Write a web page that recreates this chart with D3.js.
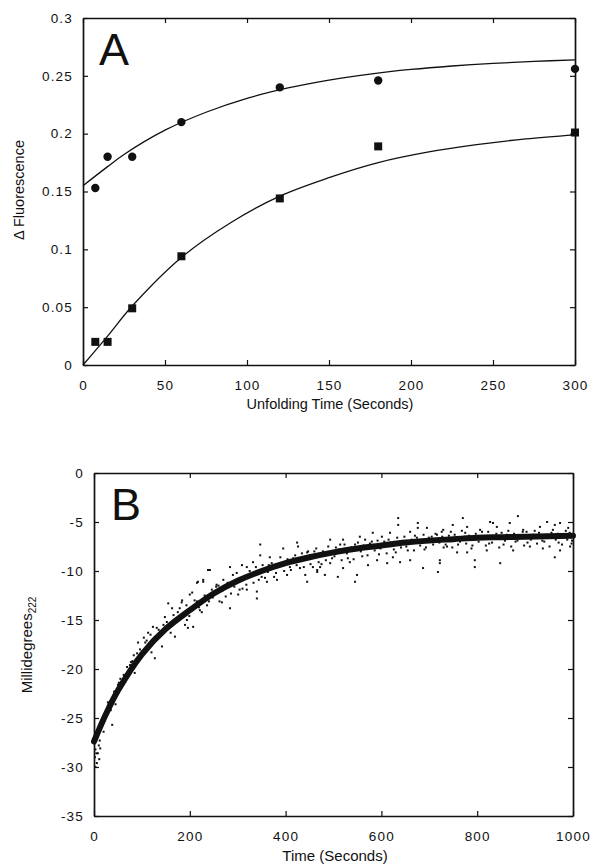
<!DOCTYPE html>
<html>
<head>
<meta charset="utf-8">
<script src="https://cdn.jsdelivr.net/npm/d3@7"></script>
<style>
  body { margin: 0; background: #fff; }
  svg { display: block; font-family: "Liberation Sans", Arial, Helvetica, sans-serif; }
  .tick text { font-size: 13.5px; letter-spacing: 1.2px; fill: #111; }
  .domain { stroke: #111; stroke-width: 1.7; }
  .tick line { stroke: #111; stroke-width: 1.2; }
</style>
</head>
<body>
<div id="chart"></div>
<script>
// ---- Panel A data ----
const unfoldTimes = [7.5, 15, 30, 60, 120, 180, 300];
const circleVals = [0.153, 0.180, 0.180, 0.210, 0.240, 0.246, 0.256];
const squareVals = [0.020, 0.020, 0.049, 0.094, 0.144, 0.189, 0.201];

// fitted curves
const fitCircleT = [0, 15, 25, 50, 75, 100, 125, 150, 175, 200, 225, 250, 275, 300];
const fitCircleY = [0.155, 0.1715, 0.182, 0.203, 0.2185, 0.2305, 0.2395, 0.2463, 0.2515, 0.2555, 0.2585, 0.2608, 0.2625, 0.2638];
const fitSquareT = [0, 15, 30, 60, 90, 120, 150, 180, 210, 240, 270, 300];
const fitSquareY = [0.0, 0.025, 0.051, 0.093, 0.123, 0.146, 0.162, 0.175, 0.184, 0.1905, 0.1955, 0.199];

const aXTicks = [0, 50, 100, 150, 200, 250, 300];
const aYTicks = [0, 0.05, 0.1, 0.15, 0.2, 0.25, 0.3];

// ---- Panel B data ----
const fitBT = [0, 25, 50, 100, 150, 200, 250, 300, 350, 400, 450, 500, 550, 600, 650, 700, 750, 800, 850, 900, 950, 1000];
const fitBY = [-27.4, -24.6, -22.2, -18.5, -15.9, -14.0, -12.3, -11.0, -10.0, -9.2, -8.6, -8.1, -7.7, -7.4, -7.1, -6.9, -6.75, -6.6, -6.55, -6.5, -6.45, -6.4];

// scattered CD readings around the fit
const bandDots = [
  [5,-28.6],[10,-27.8],[15,-25.9],[20,-26.4],[35,-24.2],[45,-23.6],[55,-21.0],[65,-21.3],[80,-19.2],[85,-20.4],
  [110,-17.1],[120,-18.3],[135,-16.0],[160,-16.3],[175,-14.2],[215,-13.1],[225,-14.2],[260,-11.5],[275,-12.6],[290,-10.4],
  [310,-11.8],[325,-10.0],[350,-10.6],[365,-9.4],[380,-10.2],[420,-8.4],[430,-9.7],[460,-8.0],[475,-9.3],[505,-7.6],
  [530,-8.7],[545,-7.3],[560,-8.5],[580,-7.0],[595,-8.3],[615,-6.8],[630,-8.1],[645,-7.0],[655,-7.9],[670,-6.4],
  [690,-7.8],[705,-6.5],[730,-7.6],[745,-6.0],[760,-7.3],[775,-6.1],[790,-7.4],[810,-6.0],[825,-7.2],[840,-6.2],
  [855,-7.3],[865,-5.9],[880,-7.0],[895,-6.0],[905,-7.1],[920,-5.9],[940,-7.0],[955,-6.1],[970,-7.1],[985,-5.9],[998,-6.9]
];
const earlyDots = [
  [2,-29.0],[8,-28.6],[13,-28.1],[6,-29.6],[3,-30.0],[11,-29.2],[38,-25.7],[29,-23.4],[42,-22.3],[50,-21.6],
  [69,-19.8],[75,-19.6],[90,-18.4],[92,-17.3],[104,-16.8],[113,-16.3],[123,-15.7],[127,-18.9],[142,-17.7],[148,-14.7],
  [155,-13.3],[163,-13.8],[169,-16.7],[184,-13.0],[190,-15.5],[196,-15.8],[205,-12.2],[217,-11.1],[228,-10.9],[238,-9.9],[221,-14.0],
  [3,-28.2],[4,-27.0],[9,-26.5],[12,-27.3],[17,-25.3],[22,-24.9],[27,-24.3],[31,-23.5],[40,-23.0],[47,-22.5],
  [52,-21.4],[58,-21.8],[62,-20.6],[71,-20.3],[77,-19.3],[83,-18.6],[88,-19.4],[96,-18.0],[101,-18.2],[107,-17.3],
  [115,-17.4],[118,-16.5],[126,-16.8],[131,-15.8],[138,-16.5],[145,-15.5],[152,-15.2],[158,-15.6],[166,-14.5],[172,-15.1],
  [179,-13.8],[186,-14.3],[193,-13.5],[199,-14.6],[210,-13.0],[219,-13.7],[231,-12.5],[240,-13.1],[246,-11.9]
];
const midDots = [
  [347,-7.3],[424,-7.1],[426,-7.5],[395,-7.7],[242,-9.9],[284,-9.6],[309,-9.4],[215,-11.2],[228,-11.1],[347,-8.4],
  [367,-8.6],[445,-8.1],[183,-13.2],[200,-12.4],[256,-11.4],[270,-10.9],[319,-9.6],[332,-9.1],
  [284,-13.8],[340,-12.8],[340,-12.1],[319,-11.9],[301,-12.4],[361,-11.1],[382,-10.9],[403,-10.4],[445,-11.1],[441,-10.4],
  [267,-13.2],[236,-13.5],[207,-15.7],[194,-15.0],[248,-12.7],[409,-9.6],[466,-9.9],[457,-9.6],
  [255,-11.6],[262,-13.1],[268,-12.0],[279,-11.2],[286,-12.3],[293,-11.6],[298,-10.2],[304,-11.9],[312,-10.7],[318,-11.4],
  [327,-10.3],[333,-11.2],[338,-9.6],[344,-10.9],[352,-9.4],[357,-10.7],[363,-10.1],[371,-9.2],[376,-10.6],[384,-9.5],
  [389,-8.6],[397,-10.0],[404,-8.8],[411,-9.9],[416,-8.7],[423,-9.4],[434,-8.2],[438,-9.6],[447,-8.0],[452,-9.3],
  [458,-8.5],[464,-7.7],[469,-9.1],[478,-8.0],[484,-8.9],[489,-7.5],[497,-8.7],[502,-8.5],[511,-7.8],[517,-8.9],
  [523,-7.3],[528,-8.2],[537,-7.6],[542,-8.8],[551,-7.1],[557,-8.0],[563,-7.4],[571,-8.4],[576,-7.2],[586,-7.9],
  [592,-6.9],[598,-7.7]
];
const lateDots = [
  [635,-4.6],[635,-5.3],[676,-5.1],[676,-5.6],[726,-6.0],[716,-6.3],[618,-6.1],[601,-6.5],[582,-6.1],[555,-6.5],
  [566,-6.8],[520,-6.8],[493,-6.8],[514,-7.3],[660,-6.0],[695,-5.6],
  [545,-11.1],[549,-10.4],[482,-10.4],[466,-10.1],[509,-10.6],[520,-9.7],[572,-9.4],[612,-9.2],[591,-8.9],[639,-9.1],
  [660,-8.9],[687,-9.7],[718,-10.1],[722,-8.9],[624,-8.6],[534,-9.1],[493,-9.2],[472,-9.6],
  [885,-4.4],[833,-5.1],[827,-5.0],[770,-4.6],[749,-5.3],[779,-5.5],[868,-5.1],[946,-5.0],[962,-5.3],[973,-5.1],
  [990,-5.6],[931,-5.5],[806,-5.8],[896,-5.8],[729,-5.8],[841,-5.5],
  [795,-8.9],[795,-9.6],[848,-9.2],[758,-8.1],[820,-7.9],[875,-7.9],[910,-7.5],[962,-8.6],[973,-7.9],[994,-7.5],
  [737,-7.5],[779,-8.1],[937,-7.7],[722,-9.2],
  [606,-7.0],[611,-8.2],[619,-7.1],[626,-7.8],[633,-6.6],[641,-7.6],[648,-6.5],[652,-7.5],[663,-6.8],[668,-7.9],
  [674,-6.6],[681,-7.4],[688,-6.3],[693,-7.6],[699,-6.6],[708,-7.3],[713,-6.2],[721,-7.1],[727,-6.5],[734,-7.3],
  [741,-6.4],[748,-7.6],[753,-6.3],[764,-7.0],[768,-5.9],[777,-7.2],[783,-6.4],[788,-7.7],[797,-6.2],[803,-7.0],
  [812,-6.5],[818,-7.4],[823,-6.0],[831,-7.1],[836,-6.6],[846,-7.6],[851,-6.1],[858,-6.9],[862,-6.3],[871,-7.5],
  [877,-6.2],[884,-6.9],[889,-6.4],[898,-7.4],[903,-6.0],[912,-6.8],[917,-6.3],[925,-7.2],[929,-6.1],[936,-6.9],
  [944,-6.3],[951,-7.5],[958,-5.8],[964,-6.8],[968,-6.2],[977,-7.3],[981,-6.3],[988,-6.8],[993,-6.1],[997,-7.2]
];

const bXTicks = [0, 200, 400, 600, 800, 1000];
const bYTicks = [0, -5, -10, -15, -20, -25, -30, -35];

// ---- SVG ----
const W = 593, H = 864;
const svg = d3.select('#chart').append('svg')
    .attr('width', W)
    .attr('height', H);

svg.append('rect').attr('width', W).attr('height', H).attr('fill', '#fff');

// framed panel with inward ticks on all four sides
function framePanel(x, y, xTicks, yTicks, xFmt, yFmt) {
    const [x0, x1] = x.range();
    const [y0, y1] = y.range();
    const g = svg.append('g');
    g.append('g')
        .attr('transform', `translate(0,${y0})`)
        .call(d3.axisBottom(x).tickValues(xTicks).tickFormat(xFmt)
            .tickSizeInner(-5).tickSizeOuter(0).tickPadding(15));
    g.append('g')
        .attr('transform', `translate(${x0},0)`)
        .call(d3.axisLeft(y).tickValues(yTicks).tickFormat(yFmt)
            .tickSizeInner(-5).tickSizeOuter(0).tickPadding(10));
    g.append('g')
        .attr('transform', `translate(0,${y1})`)
        .call(d3.axisTop(x).tickValues(xTicks).tickFormat('')
            .tickSizeInner(-5).tickSizeOuter(0));
    g.append('g')
        .attr('transform', `translate(${x1},0)`)
        .call(d3.axisRight(y).tickValues(yTicks).tickFormat('')
            .tickSizeInner(-5).tickSizeOuter(0));
    return g;
}

// ---- Panel A ----
const xA = d3.scaleLinear().domain([0, 300]).range([83, 575]);
const yA = d3.scaleLinear().domain([0, 0.3]).range([365, 18]);

framePanel(xA, yA, aXTicks, aYTicks, d3.format('d'), d3.format('~g'));

const lineA = d3.line()
    .x(d => xA(d[0]))
    .y(d => yA(d[1]))
    .curve(d3.curveCatmullRom.alpha(0.5));

svg.append('path')
    .datum(d3.zip(fitCircleT, fitCircleY))
    .attr('fill', 'none')
    .attr('stroke', '#111')
    .attr('stroke-width', 1.3)
    .attr('d', lineA);

svg.append('path')
    .datum(d3.zip(fitSquareT, fitSquareY))
    .attr('fill', 'none')
    .attr('stroke', '#111')
    .attr('stroke-width', 1.3)
    .attr('d', lineA);

svg.selectAll('.pt-circle')
    .data(d3.zip(unfoldTimes, circleVals))
    .enter().append('circle')
    .attr('class', 'pt-circle')
    .attr('cx', d => xA(d[0]))
    .attr('cy', d => yA(d[1]))
    .attr('r', 4.2)
    .attr('fill', '#111');

svg.selectAll('.pt-square')
    .data(d3.zip(unfoldTimes, squareVals))
    .enter().append('rect')
    .attr('class', 'pt-square')
    .attr('x', d => xA(d[0]) - 4)
    .attr('y', d => yA(d[1]) - 4)
    .attr('width', 8)
    .attr('height', 8)
    .attr('fill', '#111');

svg.append('text')
    .attr('x', 99).attr('y', 65)
    .style('font-size', '45px')
    .attr('fill', '#111')
    .text('A');

svg.append('text')
    .attr('x', 330).attr('y', 409)
    .attr('text-anchor', 'middle')
    .style('font-size', '14.5px')
    .attr('fill', '#111')
    .text('Unfolding Time (Seconds)');

svg.append('text')
    .attr('transform', 'translate(24,190) rotate(-90)')
    .attr('text-anchor', 'middle')
    .style('font-size', '14.5px')
    .attr('fill', '#111')
    .text('\u0394 Fluorescence');

// ---- Panel B ----
const xB = d3.scaleLinear().domain([0, 1000]).range([94, 573]);
const yB = d3.scaleLinear().domain([-35, 0]).range([816, 473]);

framePanel(xB, yB, bXTicks, bYTicks, d3.format('d'), d => d < 0 ? '-' + (-d) : '' + d);

const lineB = d3.line()
    .x(d => xB(d[0]))
    .y(d => yB(d[1]))
    .curve(d3.curveCatmullRom.alpha(0.5));

const allDots = bandDots.concat(earlyDots, midDots, lateDots);
svg.selectAll('.dot')
    .data(allDots)
    .enter().append('rect')
    .attr('class', 'dot')
    .attr('x', d => xB(d[0]) - 1)
    .attr('y', d => yB(d[1]) - 1)
    .attr('width', 2)
    .attr('height', 2)
    .attr('fill', '#111');

svg.append('path')
    .datum(d3.zip(fitBT, fitBY))
    .attr('fill', 'none')
    .attr('stroke', '#111')
    .attr('stroke-width', 6)
    .attr('stroke-linecap', 'round')
    .attr('d', lineB);

svg.append('text')
    .attr('x', 111).attr('y', 520)
    .style('font-size', '45px')
    .attr('fill', '#111')
    .text('B');

svg.append('text')
    .attr('x', 335).attr('y', 861)
    .attr('text-anchor', 'middle')
    .style('font-size', '15px')
    .attr('fill', '#111')
    .text('Time (Seconds)');

const yTitleB = svg.append('text')
    .attr('transform', 'translate(32,645) rotate(-90)')
    .attr('text-anchor', 'middle')
    .style('font-size', '15px')
    .attr('fill', '#111');
yTitleB.append('tspan').text('Millidegrees');
yTitleB.append('tspan')
    .attr('dy', 4)
    .style('font-size', '10px')
    .text('222');
</script>
</body>
</html>
